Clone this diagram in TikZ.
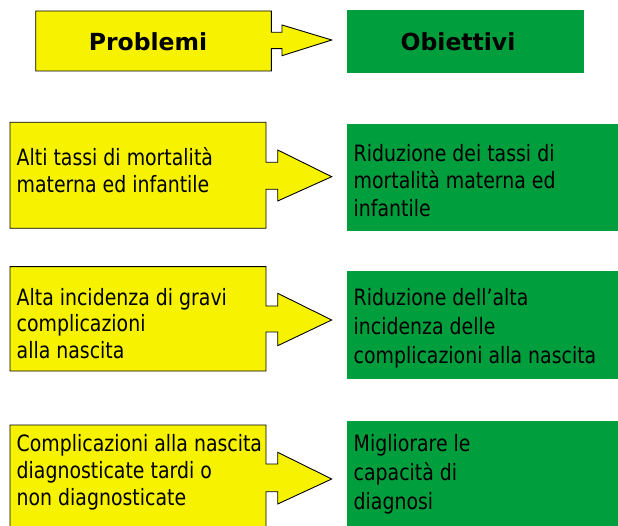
\documentclass[tikz,border=0pt]{standalone}
\usepackage{fontspec}
\newfontfamily\bodyfont{DejaVu Sans}[FakeStretch=0.84]
\newfontfamily\headfont{DejaVu Sans}
\definecolor{pyellow}{RGB}{247,243,0}
\definecolor{ogreen}{RGB}{0,158,60}
\begin{document}
\begin{tikzpicture}[x=1pt,y=-1pt,
  probbox/.style={fill=pyellow, draw=black, line width=0.9pt, line join=miter},
  objbox/.style={fill=ogreen, draw=none},
  body/.style={font=\bodyfont\fontsize{22.5}{#1}\selectfont, align=left, anchor=north west, inner sep=0pt, text=black},
  body/.default=27,
  head/.style={font=\headfont\bfseries\fontsize{23.5}{28}\selectfont, inner sep=0pt, anchor=base, text=black}]
\useasboundingbox (0,0) rectangle (618,526);
\clip (0,0) rectangle (618,526);

% header row
\path[probbox] (35.7,11) -- (271.3,11) -- (271.3,32.3) -- (282,32.3) -- (282,25) -- (331.7,40)
  -- (282,55.7) -- (282,48.7) -- (271.3,48.7) -- (271.3,71) -- (35.7,71) -- cycle;
\path[objbox] (347,10) rectangle (584,72.7);
\node[head] (hp) at (148,51) {Problemi};
\node[head] (ho) at (458,51) {Obiettivi};

% row 1
\path[probbox] (10,122.3) -- (266,122.3) -- (266,162.3) -- (277.7,162.3) -- (277.7,150) -- (331.7,176.7)
  -- (277.7,201) -- (277.7,189.3) -- (266,189.3) -- (266,228.3) -- (10,228.3) -- cycle;
\path[objbox] (347,124) rectangle (618,231);
\node[body] (p1) at (16.5,145) {\rule{0pt}{20pt}Alti tassi di mortalità\\materna ed infantile};
\node[body=27.5] (o1) at (353.5,141) {\rule{0pt}{20pt}Riduzione dei tassi di\\mortalità materna ed\\infantile};

% row 2
\path[probbox] (10,266.7) -- (266,266.7) -- (266,306) -- (277.7,306) -- (277.7,293.3) -- (331.7,320)
  -- (277.7,345.7) -- (277.7,332) -- (266,332) -- (266,371) -- (10,371) -- cycle;
\path[objbox] (347,271) rectangle (618,379.3);
\node[body=26.5] (p2) at (16.5,285) {\rule{0pt}{20pt}Alta incidenza di gravi\\complicazioni\\alla nascita};
\node[body=29] (o2) at (353.5,285) {\rule{0pt}{20pt}Riduzione dell’alta\\incidenza delle\\complicazioni alla nascita};

% row 3
\path[probbox] (10,425) -- (266,425) -- (266,464) -- (277.7,464) -- (277.7,452.3) -- (331.7,479)
  -- (277.7,504) -- (277.7,491.7) -- (266,491.7) -- (266,540) -- (10,540) -- cycle;
\path[objbox] (347,421) rectangle (618,540);
\node[body=27] (p3) at (16.5,431) {\rule{0pt}{20pt}Complicazioni alla nascita\\diagnosticate tardi o\\non diagnosticate};
\node[body=29] (o3) at (353.5,431) {\rule{0pt}{20pt}Migliorare le\\capacità di\\diagnosi};
\end{tikzpicture}
\end{document}
